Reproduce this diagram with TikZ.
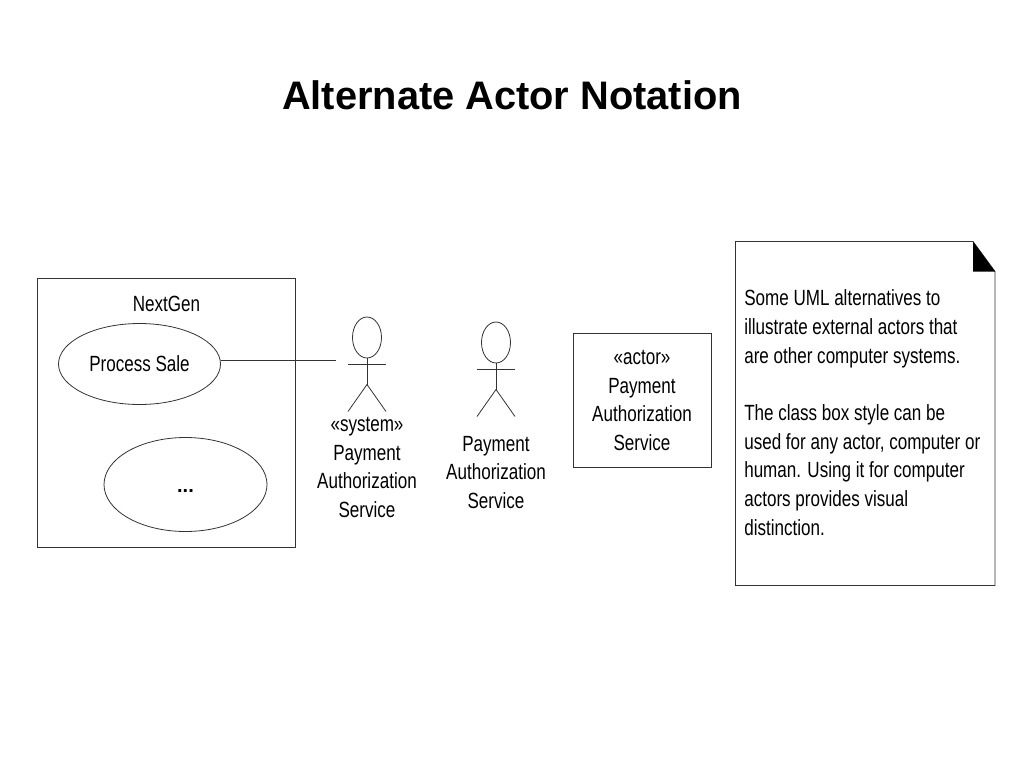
\documentclass[tikz,border=0pt]{standalone}
\usepackage{fontspec}
\setmainfont{Liberation Sans}
\newfontfamily\narrowfont[FakeStretch=0.775]{Liberation Sans}
\usepackage{tikz}
\usetikzlibrary{shapes.geometric,positioning,calc}
\tikzset{
  x=0.75pt,y=-0.75pt,
  line/.style={draw=black!80,line width=0.6pt},
  box/.style={rectangle,line,inner sep=0pt},
  ucase/.style={ellipse,line,inner sep=0pt},
  lbl/.style={align=center,font=\narrowfont\fontsize{16.5}{21.5}\selectfont,inner sep=0pt},
}
\newcommand{\stickman}[3]{% name, x, y of head centre
  \node[ellipse,line,minimum width=21.75pt,minimum height=30.75pt,inner sep=0pt] (#1) at (#2,#3) {};
  \coordinate (#1hip) at (#2,#3+47);
  \coordinate (#1la) at (#2-19,#3+27);
  \coordinate (#1ra) at (#2+19,#3+27);
  \coordinate (#1lf) at (#2-19,#3+74);
  \coordinate (#1rf) at (#2+19,#3+74);
  \draw[line] (#1) -- (#1hip);
  \draw[line] (#1la) -- (#1ra);
  \draw[line] (#1lf) -- (#1hip) -- (#1rf);
}
\begin{document}
\begin{tikzpicture}
\useasboundingbox (0,0) rectangle (1024,768);

\node[font=\fontsize{29.85}{34}\selectfont\bfseries,inner sep=0pt] (title) at (512,95.5) {Alternate Actor Notation};

\node[box,minimum width=193.9pt,minimum height=201.75pt] (sys) at (166.3,412.5) {};
\node[lbl] (sysname) at (166.5,304) {NextGen};
\node[ucase,minimum width=121.5pt,minimum height=60.75pt] (sale) at (139.5,364) {};
\node[lbl] at (139.5,363.5) {Process Sale};
\node[ucase,minimum width=122.25pt,minimum height=70.5pt] (more) at (185.5,484.5) {};
\node[font=\fontsize{15}{18}\selectfont\bfseries,inner sep=0pt] at (185.5,491) {...};

\stickman{act}{367}{337.5}
\stickman{bct}{496}{342.5}
\coordinate (linkend) at (336,360);
\draw[line] (sale.east |- linkend) -- (linkend);

\node[lbl] (actlbl) at (367,467.5) {«system»\\Payment\\Authorization\\Service};
\node[lbl] (bctlbl) at (496,472.5) {Payment\\Authorization\\Service};

\node[box,minimum width=104pt,minimum height=100.5pt] (cls) at (642.4,400) {};
\node[lbl] (clslbl) at (642,400.5) {«actor»\\Payment\\Authorization\\Service};

\coordinate (n1) at (735.5,241.5);
\coordinate (n2) at (973,241.5);
\coordinate (n3) at (995,271.5);
\coordinate (n4) at (995,585.5);
\coordinate (n5) at (735.5,585.5);
\draw[line] (n1) -- (n2) -- (n3) -- (n4) -- (n5) -- cycle;
\fill[black] (n2) -- (n3) -- (973,271.5) -- cycle;
\node[lbl,align=left,anchor=north west] (notetext) at (744,289.5) {Some UML alternatives to\\illustrate external actors that\\are other computer systems.\\[21.5pt]The class box style can be\\used for any actor, computer or\\human. Using it for computer\\actors provides visual\\distinction.};
\end{tikzpicture}
\end{document}
